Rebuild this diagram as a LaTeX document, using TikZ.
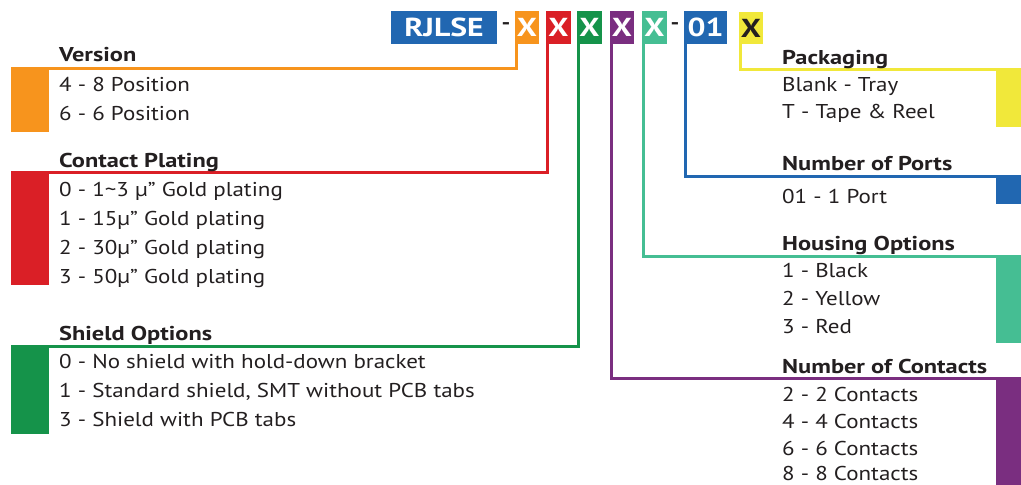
\documentclass[tikz,border=0pt]{standalone}
\usepackage{fontspec}
\setmainfont{PT Sans}[FakeStretch=1.15, BoldFeatures={FakeStretch=1.22}]
\usetikzlibrary{positioning}

\definecolor{cOrange}{HTML}{F7941D}
\definecolor{cRed}{HTML}{DA1F26}
\definecolor{cGreen}{HTML}{15934A}
\definecolor{cPurple}{HTML}{7A2E80}
\definecolor{cTeal}{HTML}{45BE93}
\definecolor{cBlue}{HTML}{2167B1}
\definecolor{cYellow}{HTML}{F1E83A}
\definecolor{ink}{HTML}{231F20}

\tikzset{
    code/.style={fill=#1, text=white, inner sep=0pt, minimum height=33pt,
        font=\fontsize{26}{26}\selectfont\bfseries},
    heading/.style={anchor=base west, inner sep=0pt, text=ink,
        font=\fontsize{20}{24}\selectfont\bfseries},
    item/.style={anchor=base west, inner sep=0pt, text=ink,
        font=\fontsize{20}{24}\selectfont},
    bar/.style={fill=#1, inner sep=0pt},
    lead/.style={draw=#1, line width=3pt},
}

\begin{document}
\begin{tikzpicture}[x=1pt, y=-1pt]
    \useasboundingbox (0,0) rectangle (1021,485);

    % part number
    \node[code=cBlue, minimum width=106pt] (base) at (444,27.5) {RJLSE};
    \node[text=ink, font=\fontsize{20}{20}\selectfont\bfseries] (dash1) at (506,26) {-};
    \node[code=cOrange, minimum width=24pt] (cv) at (527,27.5) {X};
    \node[code=cRed, minimum width=25pt] (cp) at (558.5,27.5) {X};
    \node[code=cGreen, minimum width=25pt] (cs) at (589.5,27.5) {X};
    \node[code=cPurple, minimum width=24pt] (cn) at (622,27.5) {X};
    \node[code=cTeal, minimum width=25pt] (ch) at (654.5,27.5) {X};
    \node[text=ink, font=\fontsize{20}{20}\selectfont\bfseries] (dash2) at (675,26) {-};
    \node[code=cBlue, minimum width=43pt] (cport) at (705.5,27.5) {01};
    \node[code=cYellow, text=ink, minimum width=24pt, minimum height=32pt] (cpk) at (751,28) {X};

    % left side colour bars
    \node[bar=cOrange, anchor=north west, minimum width=38pt, minimum height=64pt] (vbar) at (11,68) {};
    \node[bar=cRed, anchor=north west, minimum width=38pt, minimum height=113pt] (pbar) at (11,172) {};
    \node[bar=cGreen, anchor=north west, minimum width=38pt, minimum height=88pt] (sbar) at (11,346) {};

    % right side colour bars
    \node[bar=cYellow, anchor=north east, minimum width=25pt, minimum height=58pt] (kbar) at (1021,69) {};
    \node[bar=cBlue, anchor=north east, minimum width=25pt, minimum height=28pt] (obar) at (1021,176) {};
    \node[bar=cTeal, anchor=north east, minimum width=25pt, minimum height=87pt] (hbar) at (1021,256) {};
    \node[bar=cPurple, anchor=north east, minimum width=25pt, minimum height=107pt] (nbar) at (1021,378) {};

    % leaders
    \draw[lead=cOrange] ([xshift=1.5pt]cv.south west) |- (vbar.north west);
    \draw[lead=cRed] (cp.south) ++(-11,0) |- (pbar.north west);
    \draw[lead=cGreen] (cs.south) ++(-11,0) |- (sbar.north west);
    \draw[lead=cPurple] ([xshift=1.5pt]cn.south west) |- (nbar.north east);
    \draw[lead=cTeal] ([xshift=1.5pt]ch.south west) |- (hbar.north east);
    \draw[lead=cBlue] ([xshift=2pt]cport.south west) |- (obar.north east);
    \draw[lead=cYellow] ([xshift=1.5pt]cpk.south west) |- (kbar.north east);

    % left descriptions
    \node[heading] (vhead) at (59,61) {Version};
    \node[item] (v1) at (59,91) {4 - 8 Position};
    \node[item] (v2) at (59,120) {6 - 6 Position};

    \node[heading] (phead) at (59,167) {Contact Plating};
    \node[item] (p1) at (59,196) {0 - 1\textasciitilde3 µ” Gold plating};
    \node[item] (p2) at (59,225) {1 - 15µ” Gold plating};
    \node[item] (p3) at (59,254) {2 - 30µ” Gold plating};
    \node[item] (p4) at (59,283) {3 - 50µ” Gold plating};

    \node[heading] (shead) at (59,340) {Shield Options};
    \node[item] (s1) at (59,368) {0 - No shield with hold-down bracket};
    \node[item] (s2) at (59,397) {1 - Standard shield, SMT without PCB tabs};
    \node[item] (s3) at (59,426) {3 - Shield with PCB tabs};

    % right descriptions
    \node[heading] (khead) at (782,64) {Packaging};
    \node[item] (k1) at (782,91) {Blank - Tray};
    \node[item] (k2) at (782,118) {T - Tape \& Reel};

    \node[heading] (ohead) at (782,170) {Number of Ports};
    \node[item] (o1) at (782,203) {01 - 1 Port};

    \node[heading] (hhead) at (782,250) {Housing Options};
    \node[item] (h1) at (782,277) {1 - Black};
    \node[item] (h2) at (782,305) {2 - Yellow};
    \node[item] (h3) at (782,333) {3 - Red};

    \node[heading] (nhead) at (782,373) {Number of Contacts};
    \node[item] (n1) at (782,401) {2 - 2 Contacts};
    \node[item] (n2) at (782,428) {4 - 4 Contacts};
    \node[item] (n3) at (782,455) {6 - 6 Contacts};
    \node[item] (n4) at (782,480) {8 - 8 Contacts};
\end{tikzpicture}
\end{document}
